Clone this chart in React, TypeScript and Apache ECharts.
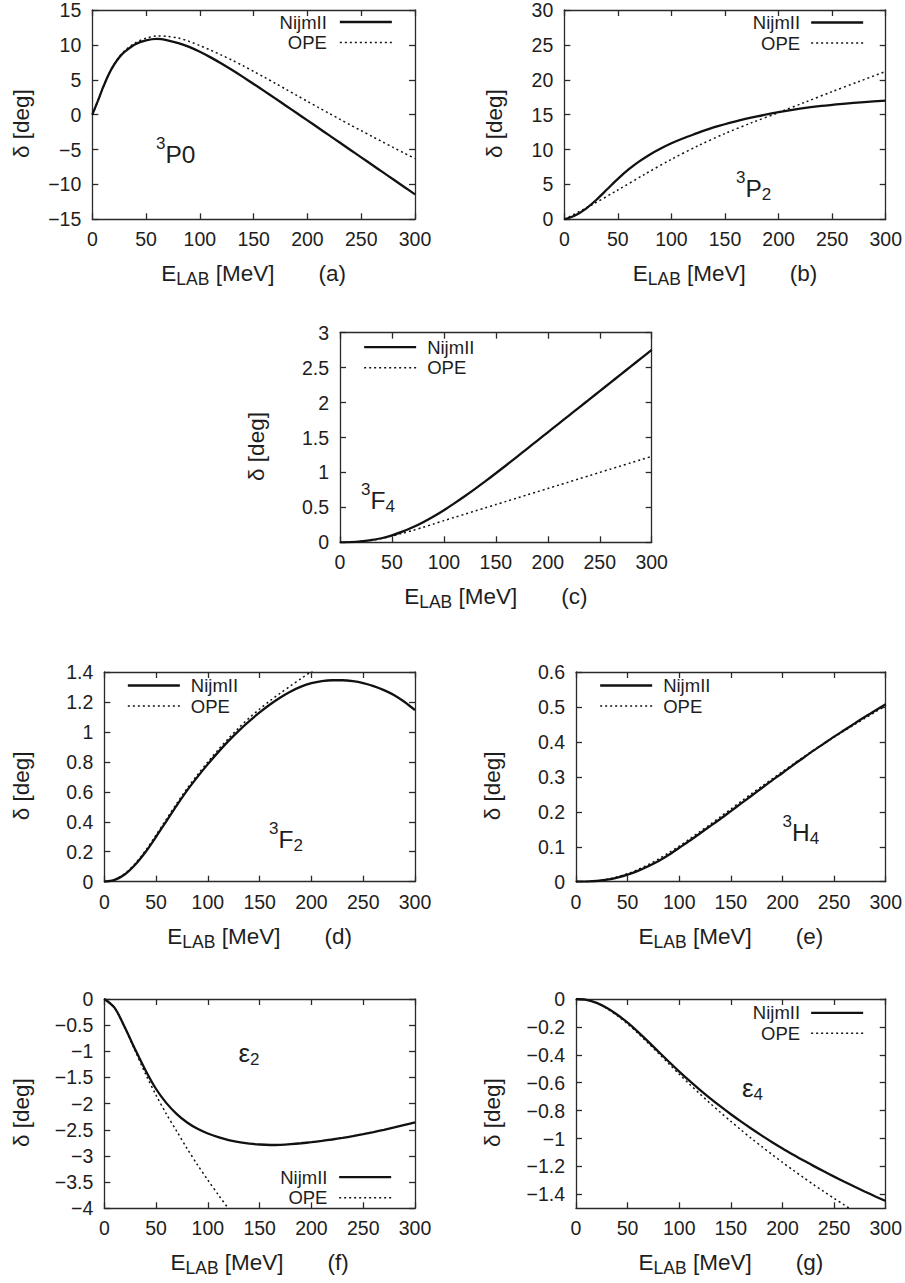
import React, { useEffect, useRef } from "react";
import * as echarts from "echarts";

// ---------- DATA (E_LAB [MeV], delta [deg]) ----------
const X_MIN = 0;
const X_MAX = 300;
const X_INTERVAL = 50;

// (a) 3P0
const P0_NIJM: number[][] = [[0,0],[5,1.9],[10,3.9],[15,5.7],[20,7.1],[25,8.2],[30,9.0],[40,10.1],[50,10.65],[60,10.86],[70,10.66],[80,10.26],[90,9.71],[100,9.01],[110,8.21],[120,7.33],[130,6.39],[140,5.41],[150,4.4],[160,3.37],[170,2.33],[180,1.28],[190,0.23],[200,-0.82],[210,-1.88],[220,-2.94],[230,-4.0],[240,-5.06],[250,-6.12],[260,-7.18],[270,-8.24],[280,-9.3],[290,-10.36],[300,-11.42]];
const P0_OPE: number[][] = [[0,0],[5,1.9],[10,3.9],[15,5.7],[20,7.15],[25,8.3],[30,9.15],[40,10.3],[50,10.95],[60,11.28],[70,11.22],[80,10.98],[90,10.5],[100,9.9],[110,9.24],[120,8.54],[130,7.8],[140,7.02],[150,6.2],[160,5.36],[170,4.5],[180,3.64],[190,2.77],[200,1.9],[210,1.04],[220,0.19],[230,-0.65],[240,-1.48],[250,-2.3],[260,-3.11],[270,-3.92],[280,-4.72],[290,-5.51],[300,-6.3]];
// (b) 3P2
const P2_NIJM: number[][] = [[0,0],[10,0.55],[20,1.5],[30,2.8],[40,4.3],[50,5.8],[60,7.15],[70,8.3],[80,9.3],[90,10.15],[100,10.9],[110,11.55],[120,12.12],[140,13.2],[160,14.05],[180,14.75],[200,15.35],[220,15.85],[240,16.25],[260,16.55],[280,16.8],[300,17.0]];
const P2_OPE: number[][] = [[0,0],[25,2.0],[50,4.2],[75,6.45],[100,8.6],[125,10.55],[150,12.3],[175,13.85],[200,15.3],[225,16.8],[250,18.3],[275,19.75],[300,21.2]];
// (c) 3F4
const F4_NIJM: number[][] = [[0,0],[10,0.002],[20,0.012],[30,0.032],[40,0.058],[50,0.1],[60,0.152],[70,0.215],[80,0.288],[90,0.37],[100,0.46],[110,0.557],[120,0.659],[130,0.765],[140,0.875],[150,0.988],[160,1.103],[170,1.22],[180,1.338],[190,1.456],[200,1.574],[210,1.692],[220,1.81],[230,1.928],[240,2.046],[250,2.164],[260,2.282],[270,2.4],[280,2.518],[290,2.636],[300,2.754]];
const F4_OPE: number[][] = [[0,0],[10,0.003],[20,0.013],[30,0.03],[40,0.055],[50,0.09],[60,0.128],[70,0.17],[80,0.215],[90,0.262],[100,0.31],[110,0.356],[120,0.402],[130,0.448],[140,0.494],[150,0.54],[160,0.586],[170,0.632],[180,0.678],[190,0.724],[200,0.77],[210,0.816],[220,0.862],[230,0.908],[240,0.954],[250,1.0],[260,1.046],[270,1.092],[280,1.138],[290,1.184],[300,1.23]];
// (d) 3F2
const F2_NIJM: number[][] = [[0,0],[10,0.012],[20,0.05],[30,0.115],[40,0.2],[50,0.3],[60,0.405],[70,0.51],[80,0.61],[90,0.7],[100,0.785],[110,0.865],[120,0.94],[130,1.009],[140,1.072],[150,1.13],[160,1.183],[170,1.23],[180,1.27],[190,1.302],[200,1.325],[210,1.339],[220,1.345],[230,1.345],[240,1.339],[250,1.326],[260,1.306],[270,1.279],[280,1.245],[290,1.2],[300,1.146]];
const F2_OPE: number[][] = [[0,0],[10,0.013],[20,0.055],[30,0.122],[40,0.21],[50,0.312],[60,0.418],[70,0.523],[80,0.623],[90,0.714],[100,0.8],[110,0.881],[120,0.957],[130,1.028],[140,1.094],[150,1.153],[160,1.208],[170,1.259],[180,1.308],[190,1.356],[200,1.404],[210,1.452]];
// (e) 3H4
const H4_NIJM: number[][] = [[0,0],[10,0.0004],[20,0.002],[30,0.006],[40,0.012],[50,0.02],[60,0.031],[70,0.044],[80,0.059],[90,0.077],[100,0.097],[110,0.117],[120,0.138],[130,0.159],[140,0.18],[150,0.202],[160,0.224],[170,0.246],[180,0.268],[190,0.29],[200,0.311],[210,0.333],[220,0.354],[230,0.375],[240,0.395],[250,0.415],[260,0.434],[270,0.453],[280,0.472],[290,0.49],[300,0.508]];
const H4_OPE: number[][] = [[0,0],[10,0.0005],[20,0.0025],[30,0.007],[40,0.014],[50,0.023],[60,0.035],[70,0.049],[80,0.065],[90,0.083],[100,0.102],[110,0.122],[120,0.143],[130,0.164],[140,0.186],[150,0.208],[160,0.23],[170,0.252],[180,0.273],[190,0.294],[200,0.315],[210,0.336],[220,0.356],[230,0.376],[240,0.395],[250,0.414],[260,0.432],[270,0.45],[280,0.468],[290,0.486],[300,0.503]];
// (f) epsilon 2
const E2_NIJM: number[][] = [[0,0],[10,-0.17],[20,-0.55],[30,-0.97],[40,-1.37],[50,-1.72],[60,-1.99],[70,-2.2],[80,-2.36],[90,-2.48],[100,-2.57],[110,-2.64],[120,-2.695],[130,-2.735],[140,-2.763],[150,-2.781],[160,-2.79],[170,-2.786],[180,-2.774],[190,-2.757],[200,-2.736],[210,-2.712],[220,-2.685],[230,-2.655],[240,-2.621],[250,-2.583],[260,-2.542],[270,-2.499],[280,-2.454],[290,-2.407],[300,-2.36]];
const E2_OPE: number[][] = [[0,0],[10,-0.17],[20,-0.56],[30,-1.0],[40,-1.44],[50,-1.84],[60,-2.2],[70,-2.53],[80,-2.86],[90,-3.17],[100,-3.46],[110,-3.74],[120,-4.01],[130,-4.28]];
// (g) epsilon 4
const E4_NIJM: number[][] = [[0,0],[10,-0.006],[20,-0.028],[30,-0.065],[40,-0.113],[50,-0.17],[60,-0.235],[70,-0.305],[80,-0.378],[90,-0.45],[100,-0.52],[110,-0.587],[120,-0.651],[130,-0.712],[140,-0.77],[150,-0.826],[160,-0.879],[170,-0.93],[180,-0.979],[190,-1.026],[200,-1.071],[210,-1.114],[220,-1.156],[230,-1.196],[240,-1.235],[250,-1.273],[260,-1.31],[270,-1.346],[280,-1.381],[290,-1.415],[300,-1.448]];
const E4_OPE: number[][] = [[0,0],[10,-0.006],[20,-0.029],[30,-0.069],[40,-0.12],[50,-0.179],[60,-0.245],[70,-0.317],[80,-0.39],[90,-0.465],[100,-0.539],[110,-0.611],[120,-0.68],[130,-0.748],[140,-0.813],[150,-0.877],[160,-0.939],[170,-1.0],[180,-1.058],[190,-1.115],[200,-1.171],[210,-1.225],[220,-1.278],[230,-1.33],[240,-1.38],[250,-1.429],[260,-1.477],[270,-1.524]];
const E4_Y_TICKS = [0, -0.2, -0.4, -0.6, -0.8, -1, -1.2, -1.4];

const SERIES_NAMES = ["NijmII", "OPE"];
const X_NAME = "E_LAB [MeV]";
const Y_NAME = "δ [deg]";

// ---------- LAYOUT ----------
const FONT = '"Liberation Sans", Arial, Helvetica, sans-serif';
const AX = "#2a2a2a";
const TXT = "#1e1e1e";
const LINE = "#111";

type Panel = {
  tag: string;
  grid: { left: number; top: number; width: number; height: number };
  yMin: number; yMax: number; yInterval?: number; yCustom?: number[];
  yNameGap: number;
  legend: any;
  label: { x: number; y: number; sup?: string; main: string; sub?: string; greek?: boolean };
  nijm: number[][]; ope: number[][];
};

const PANELS: Panel[] = [
  { tag: "a", grid: { left: 92.3, top: 9.3, width: 322.7, height: 210 }, yMin: -15, yMax: 15, yInterval: 5, yNameGap: 59,
    legend: { align: "right", right: 512, top: 12.5, pad: 8 },
    label: { x: 156, y: 154.2, sup: "3", main: "P0" }, nijm: P0_NIJM, ope: P0_OPE },
  { tag: "b", grid: { left: 564.3, top: 9.3, width: 322.4, height: 210 }, yMin: 0, yMax: 30, yInterval: 5, yNameGap: 58,
    legend: { align: "right", right: 40.7, top: 13, pad: 6 },
    label: { x: 736, y: 188, sup: "3", main: "P", sub: "2" }, nijm: P2_NIJM, ope: P2_OPE },
  { tag: "c", grid: { left: 340, top: 332.7, width: 311.7, height: 209.6 }, yMin: 0, yMax: 3, yInterval: 0.5, yNameGap: 72,
    legend: { align: "left", left: 363, top: 337.7, pad: 6 },
    label: { x: 361, y: 500.5, sup: "3", main: "F", sub: "4" }, nijm: F4_NIJM, ope: F4_OPE },
  { tag: "d", grid: { left: 104.3, top: 672, width: 310.7, height: 209.7 }, yMin: 0, yMax: 1.4, yInterval: 0.2, yNameGap: 71.6,
    legend: { align: "left", left: 126.7, top: 676, pad: 6 },
    label: { x: 269, y: 839.7, sup: "3", main: "F", sub: "2" }, nijm: F2_NIJM, ope: F2_OPE },
  { tag: "e", grid: { left: 576, top: 672, width: 311, height: 209.7 }, yMin: 0, yMax: 0.6, yInterval: 0.1, yNameGap: 72,
    legend: { align: "left", left: 599, top: 676, pad: 6 },
    label: { x: 782.5, y: 832.5, sup: "3", main: "H", sub: "4" }, nijm: H4_NIJM, ope: H4_OPE },
  { tag: "f", grid: { left: 104.3, top: 999, width: 310.7, height: 209.3 }, yMin: -4, yMax: 0, yInterval: 0.5, yNameGap: 71.6,
    legend: { align: "right", right: 512.7, top: 1167.7, pad: 6.7 },
    label: { x: 238.5, y: 1053, main: "ε", sub: "2", greek: true }, nijm: E2_NIJM, ope: E2_OPE },
  { tag: "g", grid: { left: 576, top: 999, width: 311, height: 209.3 }, yMin: -1.5, yMax: 0, yCustom: E4_Y_TICKS, yNameGap: 72,
    legend: { align: "right", right: 40.7, top: 1003.3, pad: 6 },
    label: { x: 742, y: 1088, main: "ε", sub: "4", greek: true }, nijm: E4_NIJM, ope: E4_OPE },
];

const fmt = (v: number) => String(v).replace("-", "\u2212");

function buildOption() {
  const grid: any[] = [];
  const xAxis: any[] = [];
  const yAxis: any[] = [];
  const series: any[] = [];
  const legend: any[] = [];
  const graphic: any[] = [];

  const axLine = { show: true, onZero: false, lineStyle: { color: AX, width: 1.3 } };
  const axTick = { show: true, inside: true, length: 6, lineStyle: { color: AX, width: 1.3 } };
  const [xMain, xSub] = X_NAME.split(" ")[0].split("_");
  const xRest = " " + X_NAME.split(" ").slice(1).join(" ");
  const tickFont = 19.5;

  PANELS.forEach((p, i) => {
    grid.push({ ...p.grid, containLabel: false });
    const xBase = {
      gridIndex: i, type: "value", min: X_MIN, max: X_MAX, interval: X_INTERVAL,
      axisLine: axLine, axisTick: axTick, splitLine: { show: false },
    };
    xAxis.push({
      ...xBase, position: "bottom",
      axisLabel: { show: true, margin: 10, fontSize: tickFont, color: TXT, fontFamily: FONT, formatter: fmt },
      name: `{e|${xMain}}{s|${xSub}}{e|${xRest}}{g| }{e|(${p.tag})}`,
      nameLocation: "middle", nameGap: 40,
      nameTextStyle: {
        color: TXT, fontFamily: FONT, fontSize: 22.5,
        rich: {
          e: { fontSize: 22.5, fontFamily: FONT, color: TXT },
          s: { fontSize: 17.5, fontFamily: FONT, color: TXT, padding: [11, 0, 0, 0] },
          g: { width: 44, fontSize: 22.5 },
        },
      },
    });
    xAxis.push({ ...xBase, position: "top", axisLabel: { show: false } });

    const yBase: any = {
      gridIndex: i, type: "value", min: p.yMin, max: p.yMax,
      axisLine: axLine, splitLine: { show: false },
    };
    if (p.yInterval) yBase.interval = p.yInterval;
    const tick: any = { ...axTick };
    const lab: any = { show: true, margin: 11, fontSize: tickFont, color: TXT, fontFamily: FONT, formatter: fmt };
    if (p.yCustom) { tick.customValues = p.yCustom; lab.customValues = p.yCustom; }
    yAxis.push({
      ...yBase, position: "left", axisTick: tick, axisLabel: lab,
      name: Y_NAME, nameLocation: "middle", nameRotate: 90, nameGap: p.yNameGap,
      nameTextStyle: { color: TXT, fontFamily: FONT, fontSize: 22.5, padding: [0, 18, 0, 0] },
    });
    yAxis.push({ ...yBase, position: "right", axisTick: tick, axisLabel: { show: false } });

    series.push({
      type: "line", name: SERIES_NAMES[0], xAxisIndex: 2 * i, yAxisIndex: 2 * i,
      data: p.nijm, symbol: "none", smooth: 0.3, silent: true,
      itemStyle: { color: LINE }, lineStyle: { color: LINE, width: 2.3 },
    });
    series.push({
      type: "line", name: SERIES_NAMES[1], xAxisIndex: 2 * i, yAxisIndex: 2 * i,
      data: p.ope, symbol: "none", smooth: 0.3, silent: true,
      itemStyle: { color: LINE }, lineStyle: { color: LINE, width: 1.5, type: [2, 3] },
    });

    const L = p.legend;
    const pos: any = L.align === "right" ? { right: L.right } : { left: L.left };
    legend.push({
      show: true, orient: "vertical", align: L.align, data: SERIES_NAMES, ...pos, top: L.top,
      padding: 0, itemGap: 1.5, itemWidth: 52, itemHeight: 18, selectedMode: false,
      textStyle: {
        fontSize: 18.5, fontFamily: FONT, color: TXT, lineHeight: 18,
        padding: L.align === "right" ? [0, L.pad, 0, 0] : [0, 0, 0, L.pad],
      },
      itemStyle: { opacity: 0, color: "transparent", borderWidth: 0 },
      lineStyle: { width: "inherit" },
    });

    const lb = p.label;
    let text = "";
    if (lb.sup) text += `{sup|${lb.sup}}`;
    text += `{m|${lb.main}}`;
    if (lb.sub) text += `{sub|${lb.sub}}`;
    graphic.push({
      type: "text", x: lb.x, y: lb.y, silent: true,
      style: {
        text, align: "left", verticalAlign: "middle", fill: TXT,
        fontFamily: FONT, fontSize: 24,
        rich: {
          sup: { fontSize: 17, fontFamily: FONT, fill: TXT, color: TXT, padding: [0, 0, 22, 0] },
          m: { fontSize: lb.greek ? 26 : 24.5, fontFamily: FONT, fill: TXT, color: TXT },
          sub: { fontSize: 17, fontFamily: FONT, fill: TXT, color: TXT, padding: [12, 0, 0, 0] },
        },
      },
    });
  });

  return {
    animation: false,
    backgroundColor: "#fff",
    textStyle: { fontFamily: FONT },
    grid, xAxis, yAxis, series, legend, graphic,
  };
}

export default function App() {
  const ref = useRef<HTMLDivElement>(null);
  useEffect(() => {
    if (!ref.current) return;
    const chart = echarts.init(ref.current, undefined, { renderer: "svg" });
    chart.setOption(buildOption() as any);
    return () => chart.dispose();
  }, []);
  return (
    <div
      ref={ref}
      style={{ position: "absolute", left: 0, top: 0, width: 905, height: 1283, background: "#fff" }}
    />
  );
}
